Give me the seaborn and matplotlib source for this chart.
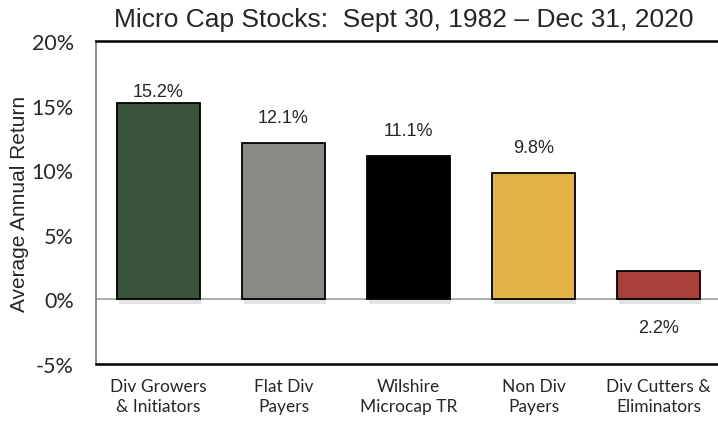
import numpy as np
import pandas as pd
import matplotlib
matplotlib.use('Agg')
import matplotlib.pyplot as plt
import matplotlib.patheffects as pe
import seaborn as sns

categories = ['Div Growers\n& Initiators', 'Flat Div\nPayers', 'Wilshire\nMicrocap TR',
              'Non Div\nPayers', 'Div Cutters &\nEliminators']
returns = [15.2, 12.1, 11.1, 9.8, 2.2]
colors = ['#3b533b', '#8a8a84', '#000000', '#e3b445', '#a8403a']
yticks = [-5, 0, 5, 10, 15, 20]

df = pd.DataFrame({'cat': categories, 'ret': returns})

sns.set_style('white')
fig = plt.figure(figsize=(7.18, 4.31), dpi=100)
ax = fig.add_axes([96/718, 1-365/431, 625/718, 323/431])

sns.barplot(data=df, x='cat', y='ret', hue='cat', palette=colors, legend=False, saturation=1,
            width=0.66, edgecolor='black', linewidth=1.3, ax=ax, zorder=3)
for p in ax.patches:
    p.set_path_effects([pe.SimplePatchShadow(offset=(1, -3), shadow_rgbFace='#b0b0b0', alpha=0.35), pe.Normal()])

ax.axhline(0, color='#a0a0a0', lw=1.2, zorder=2)
ax.set_ylim(-5, 20)
ax.set_xlim(-0.5, 4.5)
ax.set_yticks(yticks)
ax.set_yticklabels([f'{t}%' for t in yticks], fontsize=15.5, family='Lato')
ax.tick_params(axis='x', labelsize=12.5, pad=10, length=0)
ax.tick_params(axis='y', length=0, pad=16)
for lab in ax.get_xticklabels():
    lab.set_family('Lato')
    lab.set_linespacing(1.3)
ax.set_xlabel('')
ax.set_ylabel('Average Annual Return', fontsize=15, family='Liberation Sans', labelpad=2)

for s in ['top', 'bottom']:
    ax.spines[s].set_color('black')
    ax.spines[s].set_linewidth(1.8)
ax.spines['left'].set_color('#777777')
ax.spines['left'].set_linewidth(1.2)
ax.spines['right'].set_visible(False)

offsets = [2, 12, 12, 12, 0]
for i, v in enumerate(returns):
    if i == len(returns) - 1:
        ax.text(i, -2.2, f'{v}%', ha='center', va='center', fontsize=13, family='Liberation Sans')
    else:
        ax.annotate(f'{v}%', (i, v), xytext=(0, offsets[i]), textcoords='offset points',
                    ha='center', va='bottom', fontsize=13, family='Liberation Sans')

fig.text(0.562, 0.953, 'Micro Cap Stocks:  Sept 30, 1982 \u2013 Dec 31, 2020', ha='center', va='center',
         fontsize=19, family='Liberation Sans')

fig.savefig('out.png', dpi=100)
